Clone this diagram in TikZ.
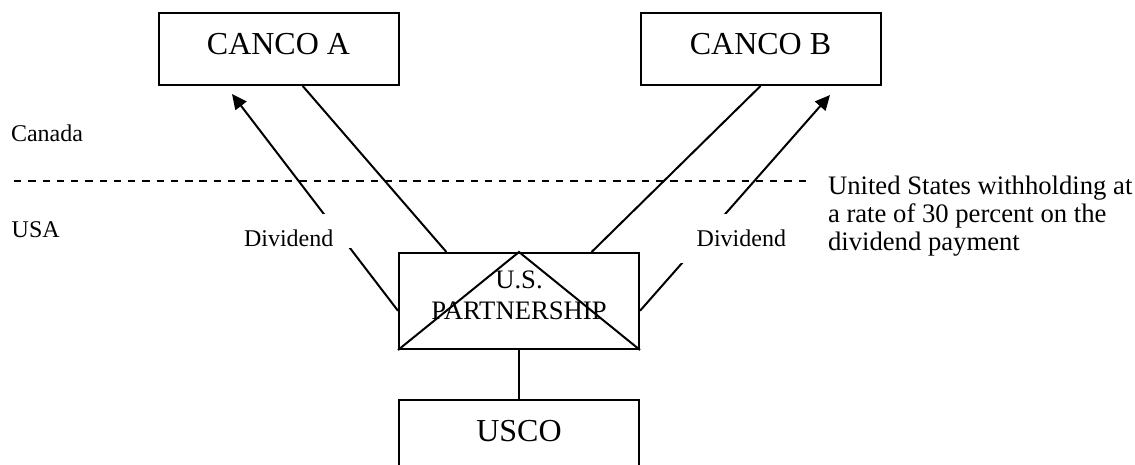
\documentclass[tikz,border=0pt]{standalone}
\usepackage{fontspec}
\setmainfont{Liberation Serif}
\usetikzlibrary{positioning}
\usetikzlibrary{calc}
\usetikzlibrary{arrows.meta}
\tikzset{
	company/.style={rectangle, draw, inner sep=0pt, minimum width=90pt, text height=15.4pt, text depth=11.6pt, font=\fontsize{12}{14}\selectfont},
	firm/.style={rectangle, draw, inner sep=0pt, minimum width=90pt, minimum height=36pt},
	dividend/.style={-{Triangle[length=5.6pt,width=5.2pt]}},
	gap/.style={fill=white, inner xsep=1.125pt, inner ysep=0pt, text height=12pt, font=\fontsize{9}{11}\selectfont},
	region/.style={anchor=base west, inner sep=0pt, font=\fontsize{9}{11}\selectfont},
	border/.style={dash pattern=on 2.75pt off 2.6pt}
}

\begin{document}
\begin{tikzpicture}[x=0.375pt, y=-0.375pt, line width=0.75pt]
	\clip (0,0) rectangle (1135,464);
	% Companies
	\node (canA) [company] at (278.5,49) {CANCO A};
	\node (canB) [company, right = 90pt of canA] {CANCO B};
	\node (psh) [firm] at (519,301) {};
	\node (pshname) [align=center, inner sep=0pt, anchor=base, font=\fontsize{10}{11.6}\selectfont] at (519,319) {U.S.\\PARTNERSHIP};
	\node (usco) [company, below = 18.4pt of psh] {USCO};
	
	% Border
	\node (canada) [region] at (10,141) {Canada};
	\node (usa) [region] at (10.7,237) {USA};
	\draw[border] (14,181) -- (806,181);
	\node (note) [align=left, anchor=base west, inner sep=0pt, font=\fontsize{10}{10.5}\selectfont] at (827,250) {United States withholding at\\a rate of 30 percent on the\\dividend payment};
	
	% Ownership
	\draw (psh.south west) -- (psh.north) -- (psh.south east);
	\draw ($(canA.south west)!0.6!(canA.south east)$) -- ($(psh.north west)!0.2!(psh.north east)$);
	\draw (canB.south) -- ($(psh.north west)!0.8!(psh.north east)$);
	\draw (psh) -- (usco);
	
	% Dividends
	\coordinate (tipA) at (232,94);
	\coordinate (tipB) at (830,95);
	\draw[dividend] ($(psh.north west)!0.6!(psh.south west)$) -- (tipA);
	\draw[dividend] ($(psh.north east)!0.6!(psh.south east)$) -- (tipB);
	\node (divA) [gap, text width=40.9pt, align=left, text depth=0.75pt, anchor=base west] at (240,246) {Dividend};
	\node (divB) [gap, text width=40.1pt, align=right, text depth=6.4pt, anchor=base east] at (790,246) {Dividend};
	
\end{tikzpicture}
\end{document}
